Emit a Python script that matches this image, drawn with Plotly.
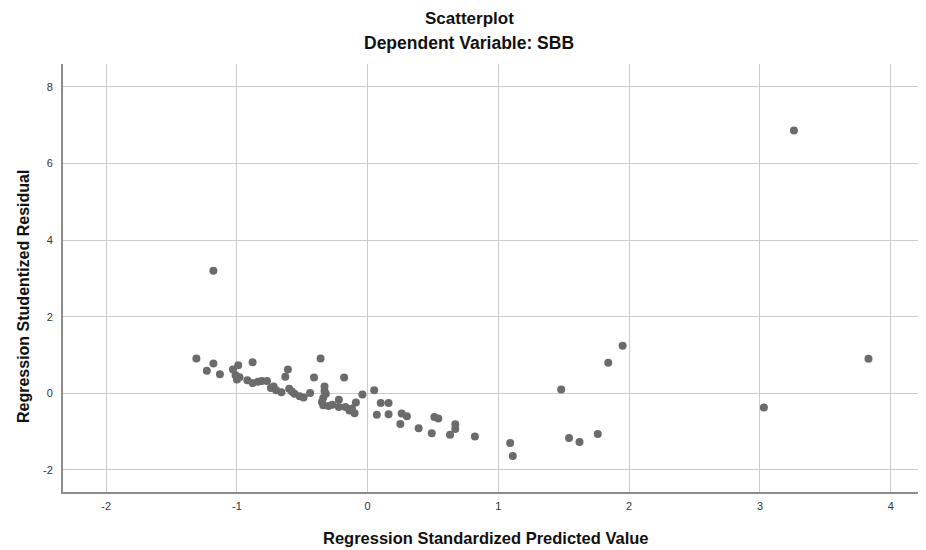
import plotly.graph_objects as go

# Regression Standardized Predicted Value
predicted = [
    -1.31, -1.23, -1.18, -1.13, -1.03, -0.99, -1.01, -1.00, -0.88, -0.92,
    -0.88, -0.84, -0.81, -0.77, -0.74, -0.70, -0.66, -0.63, -0.61, -0.60,
    -0.56, -0.52, -0.49, -0.44, -0.41, -0.36, -0.33, -0.32, -0.35, -0.34,
    -0.30, -0.22, -0.18, -0.22, -0.17, -0.14, -0.10, -0.09, -0.04, 0.05,
    0.10, 0.16, 0.07, 0.16, 0.26, 0.30, 0.25, 0.39, 0.49, 0.51,
    0.54, 0.67, 0.67, 0.63, 0.82, 1.09, 1.11, 1.48, 1.84, 1.95,
    1.54, 1.62, 1.76, -1.18, 3.26, 3.03, 3.83,
    -0.98, -0.72, -0.58, -0.33, -0.34, -0.27, -0.12,
]
# Regression Studentized Residual
residual = [
    0.91, 0.59, 0.78, 0.50, 0.62, 0.73, 0.47, 0.36, 0.81, 0.34,
    0.27, 0.30, 0.32, 0.32, 0.14, 0.08, 0.03, 0.43, 0.62, 0.12,
    -0.01, -0.08, -0.11, 0.01, 0.41, 0.91, 0.18, -0.01, -0.23, -0.31,
    -0.33, -0.17, 0.41, -0.36, -0.36, -0.45, -0.52, -0.24, -0.03, 0.08,
    -0.25, -0.25, -0.56, -0.55, -0.53, -0.60, -0.80, -0.91, -1.04, -0.62,
    -0.66, -0.81, -0.93, -1.08, -1.13, -1.30, -1.64, 0.10, 0.80, 1.24,
    -1.17, -1.27, -1.06, 3.20, 6.86, -0.37, 0.90,
    0.42, 0.18, 0.05, 0.06, -0.12, -0.30, -0.40,
]

x_ticks = [-2, -1, 0, 1, 2, 3, 4]
y_ticks = [-2, 0, 2, 4, 6, 8]

title_main = "Scatterplot"
title_sub = "Dependent Variable: SBB"
x_title = "Regression Standardized Predicted Value"
y_title = "Regression Studentized Residual"

# the page body adds an 8px margin, so the figure is drawn 8px smaller and
# all target positions (measured in window pixels) are shifted by 8px
OFF = 8
W, H = 926 - OFF, 550 - OFF
L, R, T, B = 63 - OFF, 0, 64 - OFF, 550 - 492

fig = go.Figure()
fig.add_trace(go.Scatter(
    x=predicted, y=residual, mode="markers",
    marker=dict(size=8, color="#6b6b6b", line=dict(width=0)),
    hoverinfo="x+y", showlegend=False,
))

font_family = "Liberation Sans, Arial, sans-serif"

fig.update_layout(
    width=W, height=H,
    margin=dict(l=L, r=R, t=T, b=B, autoexpand=False),
    paper_bgcolor="white", plot_bgcolor="white",
    font=dict(family=font_family, color="#222222"),
    xaxis=dict(
        range=[-2.33, 4.27], tickvals=x_ticks, ticktext=[str(v) for v in x_ticks],
        showgrid=True, gridcolor="#cbcbcb", gridwidth=1, zeroline=False,
        showline=True, linecolor="#8c8c8c", linewidth=2,
        ticks="outside", ticklen=3, tickcolor="rgba(0,0,0,0)",
        tickfont=dict(size=11, color="#333333"), automargin=False,
    ),
    yaxis=dict(
        range=[-2.577, 8.598], tickvals=y_ticks, ticktext=[str(v) for v in y_ticks],
        showgrid=True, gridcolor="#cbcbcb", gridwidth=1, zeroline=False,
        showline=True, linecolor="#8c8c8c", linewidth=2,
        ticks="outside", ticklen=6, tickcolor="rgba(0,0,0,0)",
        tickfont=dict(size=11, color="#333333"), automargin=False,
    ),
)

# annotations placed at window-pixel targets (centre x, centre y)
labels = [
    (f"<b>{title_main}</b>", 469, 18, 17, 0),
    (f"<b>{title_sub}</b>", 469, 43, 17.5, 0),
    (f"<b>{x_title}</b>", 486, 538, 16.5, 0),
    (f"<b>{y_title}</b>", 23, 297, 16, -90),
]
pw, ph = W - L - R, H - T - B
for text, px, py, size, ang in labels:
    fx = (px - OFF - L) / pw
    fy = 1 - (py - OFF - T) / ph
    fig.add_annotation(
        text=text, x=fx, y=fy, xref="paper", yref="paper",
        xanchor="center", yanchor="middle", showarrow=False, textangle=ang,
        font=dict(size=size, color="#111111", family=font_family),
    )

fig.write_html("out.html")
